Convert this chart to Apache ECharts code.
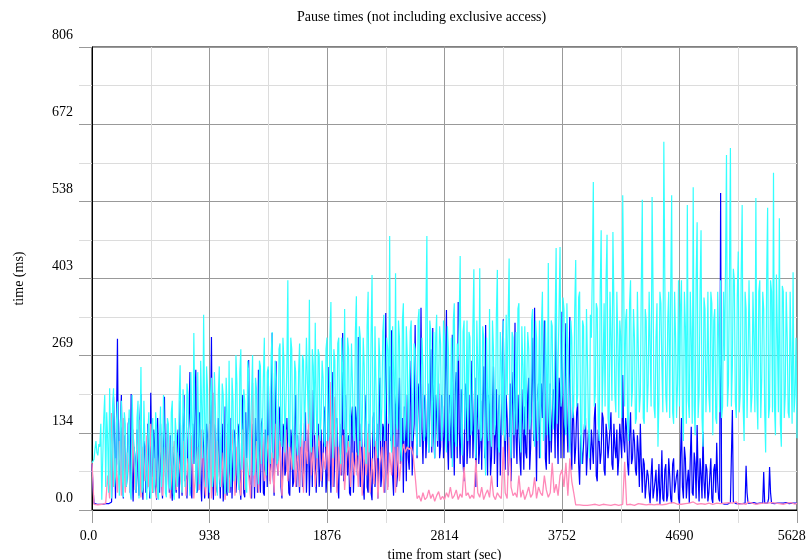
<!DOCTYPE html>
<html>
<head>
<meta charset="utf-8">
<script src="https://cdn.jsdelivr.net/npm/echarts@6/dist/echarts.min.js"></script>
<style>
  html, body { margin: 0; padding: 0; background: #fff; }
  #chart { width: 806px; height: 560px; }
</style>
</head>
<body>
<div id="chart"></div>
<script>
// x axis: seconds from start, y axis: pause time in ms
const xMax = 5628
const xTicks = [0, 938, 1876, 2814, 3752, 4690, 5628]
const yMax = 806
const yTickLabels = ['0.0', '134', '269', '403', '538', '672', '806']

// values, evenly spaced over the run
// (the *Mid arrays are the samples that fall between the main ones)
const blueTimes = [
  80, 12, 10, 10, 10, 11, 10, 11, 12, 10, 14, 197, 20, 298, 60,
  200, 20, 120, 60, 160, 202, 15, 90, 140, 25, 202, 18, 110, 40, 150,
  204, 30, 110, 18, 80, 150, 20, 197, 40, 120, 130, 16, 90, 30, 140,
  190, 25, 200, 60, 120, 240, 20, 80, 244, 35, 170, 15, 110, 40, 130,
  20, 301, 18, 150, 30, 90, 120, 15, 180, 25, 110, 160, 20, 130, 60,
  140, 18, 200, 22, 90, 261, 40, 150, 20, 110, 244, 30, 160, 25, 120,
  244, 50, 308, 25, 259, 60, 180, 20, 140, 70, 160, 25, 120, 50, 200,
  130, 30, 120, 60, 170, 100, 25, 150, 209, 80, 110, 40, 140, 90, 180,
  60, 249, 30, 240, 90, 160, 20, 130, 308, 70, 200, 130, 25, 180, 90,
  160, 301, 40, 150, 18, 200, 30, 120, 17, 170, 90, 20, 230, 60, 140,
  343, 40, 250, 313, 25, 180, 60, 230, 100, 30, 150, 200, 70, 260, 120,
  322, 90, 200, 352, 80, 200, 130, 100, 280, 317, 90, 160, 220, 110, 180,
  130, 348, 70, 200, 305, 60, 240, 362, 80, 170, 50, 220, 120, 90, 260,
  150, 40, 200, 110, 70, 250, 322, 60, 180, 90, 250, 130, 40, 200, 150,
  332, 70, 160, 110, 50, 240, 326, 80, 200, 60, 150, 180, 90, 230, 110,
  300, 352, 50, 220, 90, 160, 330, 70, 150, 220, 100, 180, 343, 80, 200,
  345, 90, 325, 100, 336, 70, 150, 110, 186, 44, 130, 80, 160, 60, 120,
  140, 80, 186, 50, 120, 100, 160, 60, 130, 90, 170, 70, 110, 140, 90,
  150, 235, 100, 140, 60, 170, 90, 120, 60, 100, 150, 30, 80, 20, 60,
  12, 90, 20, 70, 40, 10, 104, 15, 80, 25, 60, 12, 90, 30, 70,
  10, 160, 20, 90, 50, 12, 145, 25, 80, 148, 15, 60, 136, 20, 70,
  30, 90, 12, 80, 117, 20, 552, 12, 10, 11, 12, 13, 174, 12, 11,
  12, 13, 11, 12, 77, 12, 11, 12, 13, 11, 12, 12, 13, 66, 12,
  12, 75, 12, 11, 10, 12, 13, 11, 12, 12, 13, 11, 12, 13, 12, 12
]

const blueMid = [
  40, 11, 10, 10, 10, 10, 11, 11, 11, 12, 16, 120, 150, 80, 150,
  60, 130, 40, 150, 30, 80, 110, 30, 60, 160, 60, 120, 30, 150, 20,
  80, 140, 40, 160, 30, 60, 130, 60, 150, 30, 40, 110, 50, 120, 20,
  60, 140, 50, 20, 160, 30, 150, 170, 30, 120, 50, 140, 20, 150, 20,
  140, 60, 130, 40, 160, 20, 150, 60, 40, 150, 30, 20, 140, 30, 150,
  40, 150, 30, 170, 150, 60, 20, 120, 160, 30, 60, 150, 30, 140, 40,
  100, 180, 60, 140, 80, 170, 40, 150, 60, 160, 30, 140, 40, 160, 40,
  70, 150, 40, 150, 30, 140, 90, 40, 150, 30, 150, 70, 40, 160, 30,
  150, 80, 160, 40, 150, 40, 150, 60, 50, 200, 60, 30, 160, 30, 180,
  60, 80, 150, 40, 160, 40, 150, 30, 160, 40, 150, 180, 40, 150, 30,
  80, 180, 120, 60, 200, 40, 170, 80, 160, 180, 50, 90, 180, 60, 150,
  160, 220, 110, 140, 180, 90, 220, 190, 100, 130, 200, 110, 90, 200, 90,
  230, 120, 200, 90, 150, 210, 90, 140, 210, 80, 200, 80, 200, 180, 90,
  230, 160, 80, 190, 200, 90, 130, 200, 60, 190, 80, 210, 170, 60, 220,
  160, 200, 60, 220, 180, 90, 130, 200, 90, 210, 70, 100, 200, 70, 210,
  120, 160, 200, 90, 220, 240, 90, 210, 80, 100, 210, 90, 150, 230, 90,
  180, 200, 150, 210, 120, 200, 80, 170, 80, 130, 80, 150, 60, 140, 70,
  110, 160, 60, 140, 80, 170, 70, 150, 90, 140, 80, 150, 90, 60, 150,
  90, 120, 160, 80, 130, 80, 140, 70, 130, 40, 80, 90, 20, 70, 30,
  60, 20, 50, 15, 80, 40, 20, 70, 15, 90, 20, 80, 30, 60, 20,
  90, 40, 110, 20, 70, 90, 30, 100, 20, 60, 90, 20, 50, 80, 15,
  60, 20, 70, 30, 50, 15, 12, 11, 12, 10, 12, 12, 14, 12, 12,
  11, 12, 13, 12, 30, 11, 12, 13, 12, 11, 12, 13, 12, 12, 13,
  20, 30, 12, 11, 12, 13, 12, 11, 12, 13, 12, 11, 12, 12, 13
]

const pinkTimes = [
  84, 10, 8, 9, 9, 10, 8, 12, 60, 20, 169, 40, 90, 30, 120,
  25, 160, 30, 100, 60, 20, 140, 35, 90, 157, 22, 110, 50, 130, 40,
  150, 30, 90, 20, 60, 130, 25, 110, 40, 140, 20, 80, 120, 35, 100,
  100, 30, 120, 25, 90, 40, 130, 20, 70, 110, 35, 140, 60, 25, 100,
  150, 20, 204, 25, 120, 60, 40, 100, 18, 130, 30, 90, 140, 25, 110,
  110, 25, 140, 35, 90, 60, 20, 221, 40, 120, 30, 100, 130, 50, 80,
  130, 45, 100, 30, 150, 60, 120, 25, 90, 140, 50, 110, 70, 130, 40,
  110, 40, 130, 30, 120, 80, 209, 60, 110, 40, 90, 130, 50, 100, 70,
  120, 50, 223, 40, 197, 30, 110, 60, 130, 35, 90, 120, 40, 100, 60,
  100, 40, 120, 25, 110, 60, 134, 30, 90, 45, 120, 20, 80, 110, 30,
  120, 35, 100, 60, 130, 30, 110, 50, 90, 115, 100, 110, 105, 110, 95,
  60, 20, 25, 15, 30, 18, 22, 35, 20, 28, 15, 25, 32, 18, 24,
  18, 30, 22, 40, 20, 25, 35, 18, 28, 22, 75, 25, 30, 20, 26,
  20, 87, 30, 22, 40, 18, 28, 35, 22, 60, 25, 18, 30, 24, 20,
  110, 30, 20, 127, 40, 25, 30, 22, 60, 22, 35, 18, 28, 40, 22,
  28, 57, 20, 40, 30, 25, 60, 35, 22, 30, 82, 30, 45, 25, 60,
  70, 40, 82, 25, 90, 50, 30, 9, 8, 9, 10, 8, 9, 8, 10,
  9, 8, 10, 9, 8, 9, 10, 8, 9, 10, 8, 9, 10, 9, 8,
  9, 10, 84, 9, 8, 10, 9, 8, 9, 11, 9, 10, 8, 9, 10,
  10, 12, 9, 11, 10, 13, 9, 12, 10, 11, 12, 10, 13, 11, 10,
  12, 10, 13, 11, 9, 12, 10, 14, 11, 10, 12, 11, 13, 10, 12,
  12, 11, 10, 13, 12, 10, 11, 14, 12, 11, 13, 10, 12, 11, 14,
  10, 13, 11, 12, 10, 14, 11, 12, 13, 10, 12, 11, 14, 12, 10,
  12, 11, 13, 10, 12, 14, 11, 12, 10, 13, 12, 11, 13, 12, 10, 12
]

const cyanTimes = [
  82, 88, 120, 95, 110, 18, 160, 40, 125, 212, 20, 212, 60, 189, 25,
  190, 22, 150, 60, 175, 18, 130, 80, 160, 20, 249, 40, 120, 18, 170,
  20, 160, 45, 140, 18, 180, 70, 120, 22, 150, 35, 190, 18, 130, 60,
  252, 30, 170, 90, 200, 25, 150, 308, 60, 240, 45, 180, 340, 40, 210,
  30, 230, 60, 180, 25, 250, 120, 200, 28, 170, 260, 40, 190, 80, 220,
  35, 280, 100, 190, 30, 240, 150, 270, 70, 210, 45, 250, 130, 300, 60,
  250, 80, 310, 140, 230, 90, 290, 110, 260, 180, 400, 110, 280, 70, 240,
  95, 290, 150, 260, 120, 220, 366, 100, 250, 326, 90, 270, 160, 230, 110,
  300, 130, 362, 90, 260, 150, 300, 80, 240, 350, 100, 280, 170, 220, 120,
  372, 95, 300, 160, 250, 80, 380, 130, 409, 110, 320, 90, 260, 180, 340,
  120, 280, 477, 100, 240, 412, 140, 300, 85, 360, 150, 270, 110, 330, 160,
  280, 95, 350, 170, 250, 130, 477, 100, 310, 200, 90, 340, 120, 290, 150,
  300, 100, 280, 170, 75, 360, 110, 260, 442, 95, 330, 180, 120, 300, 140,
  419, 90, 250, 421, 130, 300, 60, 200, 350, 110, 280, 150, 418, 100, 260,
  330, 120, 200, 438, 90, 300, 170, 140, 360, 100, 250, 320, 130, 280, 160,
  350, 110, 300, 200, 90, 380, 140, 250, 430, 120, 320, 180, 456, 150, 458,
  200, 350, 130, 280, 100, 300, 180, 435, 200, 380, 80, 320, 150, 260, 90,
  300, 571, 200, 350, 120, 487, 250, 180, 479, 140, 300, 484, 200, 380, 160,
  300, 548, 180, 350, 120, 400, 210, 300, 160, 380, 200, 540, 150, 330, 220,
  380, 545, 180, 300, 110, 380, 250, 641, 200, 330, 160, 548, 150, 300, 220,
  180, 400, 120, 320, 531, 160, 300, 562, 130, 501, 200, 487, 110, 350, 240,
  200, 380, 130, 350, 150, 300, 400, 180, 260, 618, 220, 630, 250, 400, 160,
  450, 200, 531, 120, 350, 260, 400, 200, 300, 543, 140, 400, 230, 350, 100,
  526, 180, 380, 587, 130, 300, 508, 110, 380, 200, 300, 160, 380, 414, 200, 125
]

const cyanMid = [
  85, 105, 100, 115, 150, 90, 200, 170, 30, 120, 180, 40, 150, 60, 140,
  60, 170, 40, 130, 30, 200, 110, 30, 190, 120, 30, 190, 60, 130, 35,
  130, 30, 170, 25, 130, 40, 200, 30, 160, 40, 170, 30, 160, 40, 190,
  60, 210, 40, 220, 60, 240, 80, 170, 30, 130, 260, 90, 170, 250, 60,
  200, 40, 240, 60, 200, 40, 220, 50, 230, 30, 80, 230, 50, 270, 60,
  240, 70, 210, 40, 260, 60, 200, 60, 230, 90, 260, 80, 230, 80, 240,
  100, 270, 90, 260, 80, 280, 120, 300, 100, 250, 120, 300, 90, 260, 110,
  240, 110, 270, 120, 300, 150, 120, 280, 130, 180, 280, 120, 260, 120, 280,
  120, 300, 140, 280, 110, 290, 120, 300, 140, 130, 300, 110, 290, 130, 310,
  140, 320, 110, 300, 120, 320, 100, 300, 140, 320, 110, 300, 120, 310, 120,
  300, 150, 130, 320, 110, 150, 330, 110, 330, 120, 320, 110, 310, 120, 290,
  140, 330, 110, 300, 120, 340, 130, 330, 110, 310, 300, 120, 320, 120, 330,
  140, 320, 120, 300, 330, 120, 290, 330, 130, 310, 140, 330, 310, 130, 320,
  130, 330, 140, 120, 320, 110, 300, 120, 140, 330, 130, 340, 110, 310, 130,
  140, 340, 330, 120, 310, 130, 310, 350, 130, 320, 140, 130, 310, 140, 330,
  140, 330, 120, 330, 320, 120, 330, 130, 160, 330, 140, 330, 150, 350, 180,
  370, 150, 360, 140, 330, 160, 350, 180, 370, 140, 330, 140, 350, 150, 340,
  420, 180, 360, 150, 380, 170, 360, 400, 160, 380, 190, 360, 170, 300, 330,
  160, 400, 330, 150, 360, 180, 350, 150, 380, 170, 390, 160, 350, 170, 380,
  180, 380, 160, 360, 190, 360, 170, 400, 170, 380, 380, 170, 380, 160, 400,
  350, 170, 380, 150, 190, 380, 150, 180, 400, 160, 380, 160, 370, 170, 380,
  170, 360, 330, 160, 380, 170, 160, 380, 420, 180, 400, 180, 420, 190, 370,
  170, 410, 180, 380, 160, 400, 170, 380, 170, 200, 380, 160, 380, 170, 400,
  160, 400, 170, 180, 410, 170, 150, 390, 160, 380, 170, 380, 150, 170, 300
]

// merge main samples with the in-between ones, then place them evenly on the time axis
const merge = (main, mid) => {
  const out = []
  main.forEach((v, i) => {
    out.push(v)
    if (mid && i < mid.length) out.push(mid[i])
  })
  return out
}
const toPoints = (vals) => vals.map((v, i) => [(i * xMax) / (vals.length - 1), v])

const fontFamily = '"Liberation Serif", "DejaVu Serif", serif'
const majorColor = '#999'
const minorColor = '#dcdcdc'

const chart = echarts.init(document.getElementById('chart'), null, { renderer: 'canvas' })

chart.setOption({
  animation: false,
  backgroundColor: '#fff',
  title: {
    text: 'Pause times (not including exclusive access)',
    left: 292,
    top: 5,
    textStyle: { fontFamily, fontSize: 14, fontWeight: 'normal', color: '#000' },
  },
  grid: {
    left: 92,
    right: 9,
    top: 47,
    bottom: 50,
    outerBoundsMode: 'none',
    containLabel: false,
    show: true,
    borderColor: '#000',
    borderWidth: 1,
  },
  xAxis: {
    type: 'value',
    min: 0,
    max: xMax,
    interval: xTicks[1],
    name: 'time from start (sec)',
    nameLocation: 'middle',
    nameGap: 32,
    nameTextStyle: { fontFamily, fontSize: 14, color: '#000' },
    axisLine: { show: true, lineStyle: { color: '#000' } },
    axisTick: { show: true, length: 13, lineStyle: { color: majorColor } },
    minorTick: { show: true, splitNumber: 2, length: 13, lineStyle: { color: minorColor } },
    splitLine: { show: true, lineStyle: { color: majorColor } },
    minorSplitLine: { show: true, lineStyle: { color: minorColor } },
    axisLabel: {
      fontFamily,
      fontSize: 14,
      color: '#000',
      margin: 19,
      // last label sits against the page edge, as in the original
      formatter: (v) => (v === 0 ? '0.0  ' : v === xMax ? v + '   ' : String(v)),
    },
  },
  yAxis: {
    type: 'value',
    min: 0,
    max: yMax,
    interval: yMax / 6,
    name: 'time (ms)',
    nameLocation: 'middle',
    nameGap: 66,
    nameTextStyle: { fontFamily, fontSize: 14, color: '#000' },
    axisLine: { show: true, lineStyle: { color: '#000' } },
    axisTick: { show: true, length: 13, lineStyle: { color: majorColor } },
    minorTick: { show: true, splitNumber: 2, length: 13, lineStyle: { color: minorColor } },
    splitLine: { show: true, lineStyle: { color: majorColor } },
    minorSplitLine: { show: true, lineStyle: { color: minorColor } },
    axisLabel: {
      fontFamily,
      fontSize: 14,
      color: '#000',
      margin: 19,
      verticalAlign: 'bottom',
      lineHeight: 24,
      formatter: (v) => yTickLabels[Math.round((v / yMax) * 6)],
    },
  },
  series: [
    {
      name: 'blue',
      type: 'line',
      data: toPoints(merge(blueTimes, blueMid)),
      showSymbol: false,
      symbol: 'none',
      lineStyle: { width: 1.2, color: '#0000ff' },
      z: 2,
    },
    {
      name: 'pink',
      type: 'line',
      data: toPoints(pinkTimes),
      showSymbol: false,
      symbol: 'none',
      lineStyle: { width: 1.3, color: '#ff88b8' },
      z: 3,
    },
    {
      name: 'cyan',
      type: 'line',
      data: toPoints(merge(cyanTimes, cyanMid)),
      showSymbol: false,
      symbol: 'none',
      lineStyle: { width: 1.2, color: '#33ffff' },
      z: 4,
    },
  ],
})
</script>
</body>
</html>
